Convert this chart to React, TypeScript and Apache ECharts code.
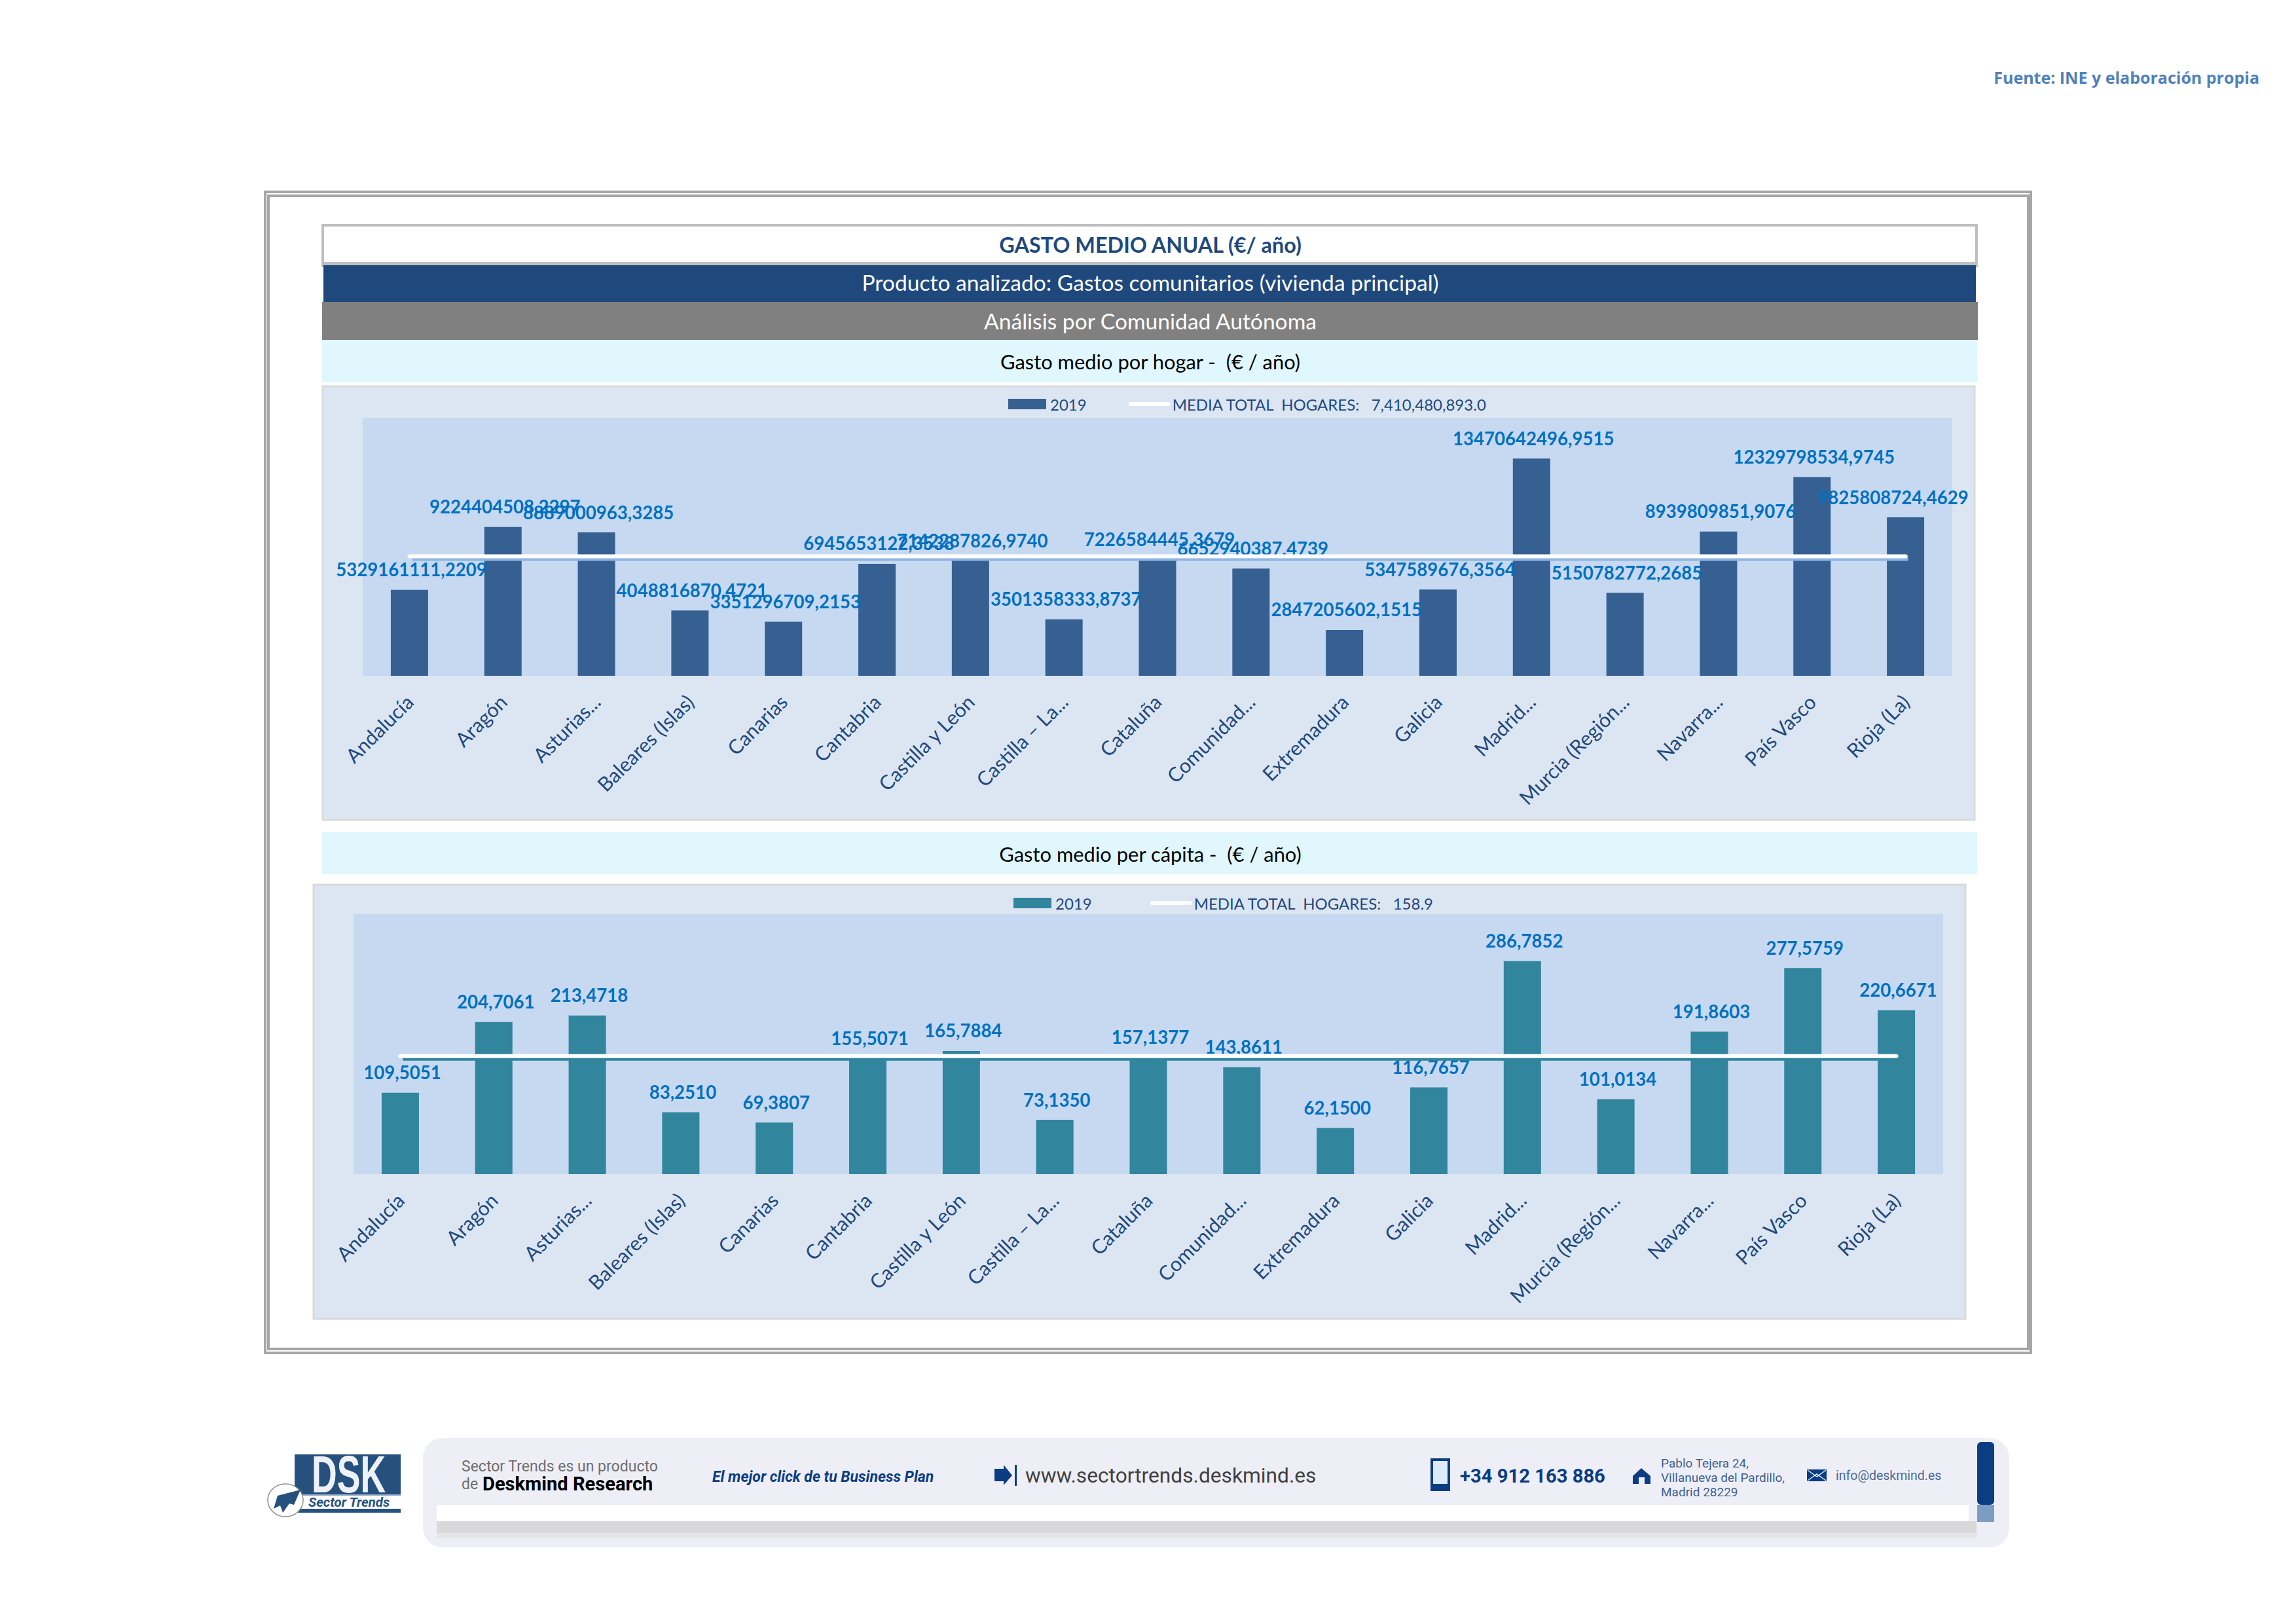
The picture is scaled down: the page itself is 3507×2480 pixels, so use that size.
import React, { useEffect, useRef } from "react";
import * as echarts from "echarts";

const categories = ["Andalucía","Aragón","Asturias...","Baleares (Islas)","Canarias","Cantabria","Castilla y León","Castilla – La...","Cataluña","Comunidad...","Extremadura","Galicia","Madrid...","Murcia (Región...","Navarra...","País Vasco","Rioja (La)"];
const hogarValues = [5329161111.2209,9224404508.2297,8889000963.3285,4048816870.4721,3351296709.2153,6945653122.3538,7142287826.9740,3501358333.8737,7226584445.3679,6652940387.4739,2847205602.1515,5347589676.3564,13470642496.9515,5150782772.2685,8939809851.9076,12329798534.9745,9825808724.4629];
const capitaValues = [109.5051,204.7061,213.4718,83.2510,69.3807,155.5071,165.7884,73.1350,157.1377,143.8611,62.15,116.7657,286.7852,101.0134,191.8603,277.5759,220.6671];
const hogarMean = 7410480893.0;
const capitaMean = 158.9;
const hogarMax = 16000000000;
const capitaMax = 350;
const barName = "2019";
const hogarMeanName = "MEDIA TOTAL  HOGARES:   7,410,480,893.0";
const capitaMeanName = "MEDIA TOTAL  HOGARES:   158.9";

const F = "Lato, 'Noto Sans', sans-serif";
const R = "Roboto, 'Liberation Sans', sans-serif";

const rect = (x: number, y: number, w: number, h: number, fill: string, extra: any = {}) => ({
  type: "rect", z: -5, shape: { x, y, width: w, height: h, r: extra.r || 0 },
  style: { fill, stroke: extra.stroke || "none", lineWidth: extra.lw || 0 },
});
const txt = (x: number, y: number, text: string, size: number, fill: string, o: any = {}) => ({
  type: "text", z: 5, x, y, scaleX: o.sx || 1,
  style: { text, fill, fontFamily: o.font || F, fontSize: size, fontWeight: o.w || "normal", fontStyle: o.st || "normal", align: o.align || "left", verticalAlign: "middle" },
});
const poly = (points: number[][], fill: string) => ({ type: "polygon", z: 4, shape: { points }, style: { fill } });

const graphics: any[] = [
  // outer double frame
  rect(405, 293, 2697, 1773, "none", { stroke: "#a6a6a6", lw: 4 }),
  rect(410, 299, 2688, 1761, "#ffffff", { stroke: "#a6a6a6", lw: 4 }),
  // header
  rect(493, 344, 2526, 58, "#ffffff", { stroke: "#bfbfbf", lw: 4 }),
  rect(491, 404, 2530, 4, "#bfbfbf"),
  rect(494, 405, 2524, 56, "#1f497d"),
  rect(492, 461, 2529, 58, "#808080"),
  rect(492, 519, 2528, 65, "#e0f7fe"),
  txt(1757, 373, "GASTO MEDIO ANUAL (€/ año)", 32.4, "#1f497d", { align: "center", w: "bold" }),
  txt(1757, 431, "Producto analizado: Gastos comunitarios (vivienda principal)", 33.6, "#ffffff", { align: "center" }),
  txt(1757, 490, "Análisis por Comunidad Autónoma", 33.6, "#ffffff", { align: "center" }),
  txt(1757, 552, "Gasto medio por hogar -  (€ / año)", 30.9, "#000000", { align: "center" }),
  // chart panels
  rect(493, 590, 2523, 662, "#dce6f2", { stroke: "#d9d9d9", lw: 3 }),
  rect(492, 1271, 2528, 64, "#e0f7fe"),
  txt(1757, 1304, "Gasto medio per cápita -  (€ / año)", 30.9, "#000000", { align: "center" }),
  rect(479, 1351, 2523, 663, "#dce6f2", { stroke: "#d9d9d9", lw: 3 }),
  // source
  txt(3451, 118, "Fuente: INE y elaboración propia", 25, "#4f81bd", { align: "right", w: "bold", font: "'Open Sans', sans-serif" }),
  // footer banner
  rect(646, 2196, 2423, 167, "#eeeef6", { r: 30 }),
  rect(667, 2298, 2340, 25, "#ffffff"),
  rect(667, 2323, 2352, 18, "#d9d9dc"),
  rect(667, 2341, 2352, 8, "#e6e6e8"),
  rect(3020, 2202, 26, 96, "#0a3d82", { r: 6 }),
  rect(3020, 2298, 26, 26, "#7d9cc4"),
  txt(705, 2239, "Sector Trends es un producto", 23, "#6e6e6e", { font: R }),
  txt(705, 2266, "de", 23, "#6e6e6e", { font: R }),
  txt(737, 2266, "Deskmind Research", 30, "#000000", { font: R, w: "bold", sx: 0.97 }),
  txt(1088, 2255, "El mejor click de tu Business Plan", 23, "#0a3d82", { font: R, w: "bold", st: "italic", sx: 1.0 }),
  poly([[1519,2243],[1533,2243],[1533,2237],[1546,2253],[1533,2268],[1533,2262],[1519,2262]], "#0a3d82"),
  rect(1550, 2237, 3, 32, "#0a3d82"),
  txt(1566, 2253, "www.sectortrends.deskmind.es", 31.7, "#404040", { font: R }),
  rect(2187, 2229, 26, 46, "#dcebfa", { stroke: "#0a3d82", lw: 4 }),
  rect(2187, 2266, 26, 9, "#0a3d82"),
  txt(2230, 2254, "+34 912 163 886", 29.2, "#0a3d82", { font: R, w: "bold" }),
  poly([[2494,2254],[2507,2242],[2521,2254],[2521,2266],[2512,2266],[2512,2256],[2503,2256],[2503,2266],[2494,2266]], "#0a3d82"),
  txt(2537, 2234, "Pablo Tejera 24,", 19, "#3f5f8f", { font: R }),
  txt(2537, 2256, "Villanueva del Pardillo,", 19, "#3f5f8f", { font: R }),
  txt(2537, 2278, "Madrid 28229", 19, "#3f5f8f", { font: R }),
  rect(2760, 2244, 30, 18, "#0a3d82"),
  { type: "polyline", z: 5, shape: { points: [[2761,2245],[2775,2255],[2789,2245]] }, style: { stroke: "#dcebfa", lineWidth: 1.5, fill: "none" } },
  { type: "polyline", z: 5, shape: { points: [[2761,2261],[2775,2251],[2789,2261]] }, style: { stroke: "#dcebfa", lineWidth: 1.5, fill: "none" } },
  txt(2804, 2253, "info@deskmind.es", 19.5, "#4a6a96", { font: R }),
  // logo
  rect(450, 2221, 162, 61, "#26517f"),
  rect(450, 2282, 162, 2, "#8fa6c0"),
  rect(450, 2304, 162, 6, "#26517f"),
  txt(476, 2251, "DSK", 80, "#eef2f7", { font: "'Liberation Sans', sans-serif", w: "bold", sx: 0.67 }),
  txt(471, 2294, "Sector Trends", 20, "#26517f", { font: R, w: "bold", st: "italic", sx: 1.02 }),
  { type: "ellipse", z: 4, shape: { cx: 436, cy: 2291, rx: 27, ry: 25 }, style: { fill: "#ffffff", stroke: "#8a8a8a", lineWidth: 1.5 } },
  poly([[418,2304],[424,2284],[432,2282],[459,2275],[449,2298],[442,2296],[432,2310],[428,2299]], "#26517f"),
];

const fmt = (p: any) => p.value.toFixed(4).replace(".", ",");

const panel = (
  idx: number, values: number[], mean: number, max: number, meanName: string,
  barColor: string, shadowColor: string, lastLabelOffset: number
) => {
  const a = idx * 2;
  const label = {
    show: true, position: "top", distance: 17, offset: [3, 0], color: "#0070c0",
    fontFamily: F, fontWeight: "bold", fontSize: 27.6, formatter: fmt,
  };
  const means = categories.map(() => mean);
  const data = values.map((value, i) =>
    i === values.length - 1 ? { value, label: { offset: [lastLabelOffset, 0] } } : value
  );
  return [
    { type: "bar", name: barName, xAxisIndex: a, yAxisIndex: a, data, barWidth: 57, itemStyle: { color: barColor }, label, z: 2 },
    { type: "line", name: "sombra" + idx, xAxisIndex: a + 1, yAxisIndex: a + 1, data: means, symbol: "none", silent: true, lineStyle: { color: shadowColor, width: 8 }, z: 3 },
    { type: "line", name: meanName, xAxisIndex: a, yAxisIndex: a, data: means, symbol: "none", lineStyle: { color: "#ffffff", width: 6, cap: "round" }, itemStyle: { color: "#ffffff" }, z: 4 },
  ];
};

const axisLabel = { interval: 0, rotate: 45, margin: 34, color: "#1f497d", fontFamily: F, fontSize: 30.5, hideOverlap: false };
const xMain = (gridIndex: number) => ({ type: "category", gridIndex, data: categories, axisLine: { show: false }, axisTick: { show: false }, axisLabel });
const xHidden = (gridIndex: number) => ({ type: "category", gridIndex, data: categories, show: false });
const yOf = (gridIndex: number, max: number) => ({ type: "value", gridIndex, min: 0, max, show: false, splitLine: { show: false } });

const plot = (left: number, top: number, height: number, bg?: string) => ({
  left, top, width: 2428, height, containLabel: false,
  show: !!bg, backgroundColor: bg || "transparent", borderWidth: 0,
});

const legendOf = (left: number, top: number, barColor: string, meanName: string, gap: number) => ({
  left, top, orient: "horizontal", itemWidth: 58, itemHeight: 16, itemGap: gap, selectedMode: false,
  textStyle: { color: "#1f497d", fontFamily: F, fontSize: 24, padding: [0, 0, 0, 1] },
  lineStyle: { width: 6, cap: "round", color: "#ffffff" },
  data: [
    { name: barName, icon: "rect", itemStyle: { color: barColor } },
    { name: meanName, itemStyle: { opacity: 0 } },
  ],
});

const option: any = {
  animation: false,
  backgroundColor: "#ffffff",
  graphic: { elements: graphics },
  legend: [
    legendOf(1535, 600, "#376092", hogarMeanName, 64),
    legendOf(1543, 1362, "#31859c", capitaMeanName, 89),
  ],
  grid: [
    plot(554, 638, 394, "#c6d9f1"), plot(558, 641, 394),
    plot(540, 1396, 397, "#c6d9f1"), plot(544, 1399, 397),
  ],
  xAxis: [xMain(0), xHidden(1), xMain(2), xHidden(3)],
  yAxis: [yOf(0, hogarMax), yOf(1, hogarMax), yOf(2, capitaMax), yOf(3, capitaMax)],
  series: [
    ...panel(0, hogarValues, hogarMean, hogarMax, hogarMeanName, "#376092", "#8eb4e3", -19),
    ...panel(1, capitaValues, capitaMean, capitaMax, capitaMeanName, "#31859c", "#31859c", 3),
  ],
};

export default function App() {
  const ref = useRef<HTMLDivElement>(null);
  useEffect(() => {
    const chart = echarts.init(ref.current!, undefined, { renderer: "svg" });
    chart.setOption(option);
    return () => chart.dispose();
  }, []);
  return <div ref={ref} style={{ position: "absolute", left: 0, top: 0, width: 3507, height: 2480 }} />;
}
